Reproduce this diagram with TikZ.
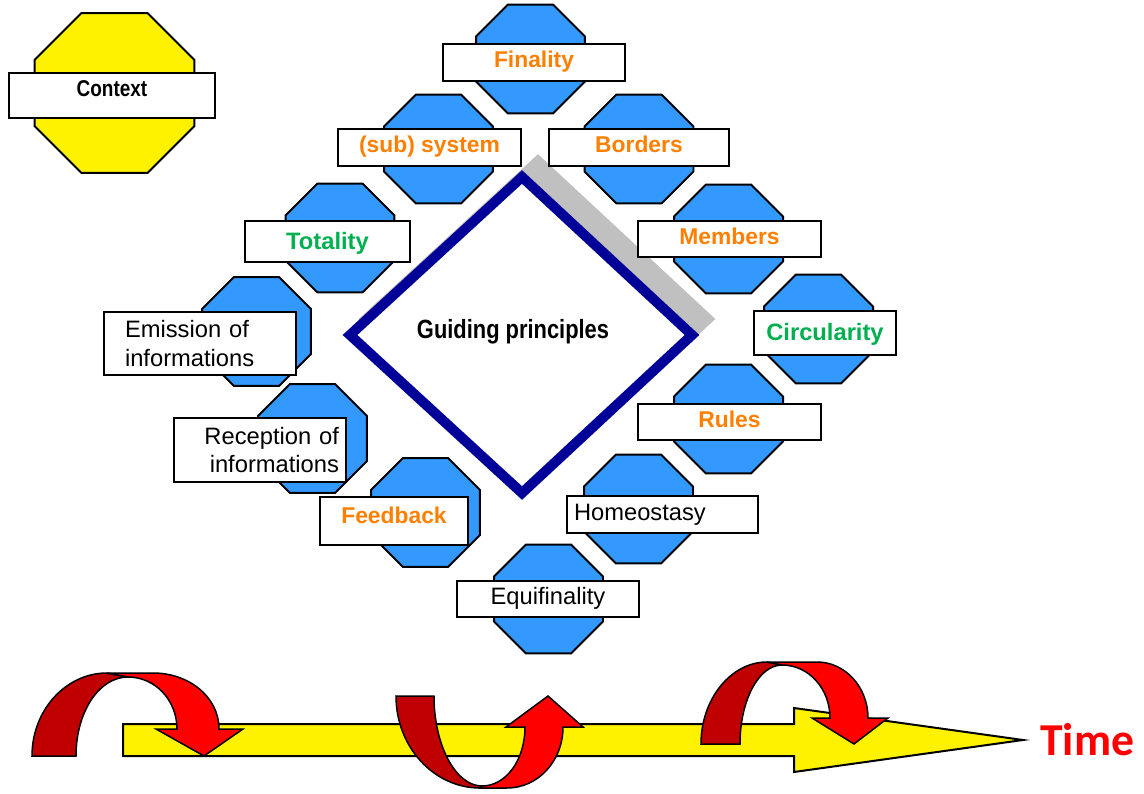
\documentclass[tikz,border=0pt]{standalone}
\usepackage{fontspec}
\setmainfont{Liberation Sans}
\newfontfamily\narrowfont{Liberation Sans}[FakeStretch=0.83]
\newfontfamily\timefont{Carlito}
\usetikzlibrary{shapes.geometric,positioning}
\definecolor{oct-blue}{HTML}{3399FF}
\definecolor{orng}{HTML}{FF8000}
\definecolor{grn}{HTML}{00B050}
\definecolor{navy}{HTML}{000099}
\definecolor{dark-red}{HTML}{C00000}
\definecolor{shadow-gray}{HTML}{C0C0C0}

\begin{document}
\begin{tikzpicture}[x=0.02cm, y=-0.02cm,
	   oct/.style={regular polygon, regular polygon sides=8, minimum size=2.36cm, inner sep=0pt, draw, line width=0.04cm, fill=oct-blue},
	   lbl/.style={draw, fill=white, line width=0.04cm, inner xsep=4pt, inner ysep=2pt, font=\fontsize{13.5}{16}\selectfont},
	   lbl1/.style={lbl, text height=0.34cm, text depth=0.12cm},
	   org/.style={text=orng, font=\fontsize{13}{16}\selectfont\bfseries},
	   grn/.style={text=grn, font=\fontsize{13.5}{16}\selectfont\bfseries},
	   back/.style={draw, line width=0.03cm, fill=dark-red},
	   front/.style={draw, line width=0.03cm, fill=red}]
	  \useasboundingbox (0,0) rectangle (1144,794);
	  % guiding principles
	  \filldraw[shadow-gray, line width=0.2cm] (538,161) -- (708,319) -- (538,477) -- (366,319) -- cycle;
	  \filldraw[fill=white, draw=navy, line width=0.2cm] (522,177) -- (692,335) -- (522,493) -- (350,335) -- cycle;
	  \node[font=\fontsize{15}{18}\narrowfont\bfseries] (gp) at (513,332) {Guiding principles};
	  % context
	  \node[oct, minimum size=3.46cm, fill=yellow] (ctx) at (114.5,93) {};
	  \node[lbl1, minimum width=4.12cm, minimum height=0.9cm, text depth=0.29cm, font=\fontsize{13}{16}\narrowfont\bfseries] (ctxL) at (112,95.5) {Context};
	  % octagons
	  \node[oct] (fin) at (530.5,59) {};
	  \node[oct] (sub) at (438.5,149) {};
	  \node[oct] (bor) at (639,149) {};
	  \node[oct] (tot) at (340,238) {};
	  \node[oct] (mem) at (728.5,239) {};
	  \node[oct] (emi) at (256.5,331.5) {};
	  \node[oct] (cir) at (818.5,329) {};
	  \node[oct] (rec) at (312.5,438.5) {};
	  \node[oct] (rul) at (728.5,419) {};
	  \node[oct] (fee) at (425.5,512.5) {};
	  \node[oct] (hom) at (638.5,509) {};
	  \node[oct] (equ) at (548.5,599) {};
	  % labels
	  \node[lbl1, org, minimum width=3.64cm, minimum height=0.74cm] (finL) at (534,62.5) {Finality};
	  \node[lbl1, org, minimum width=3.66cm, minimum height=0.74cm] (subL) at (429.5,147.5) {(sub) system};
	  \node[lbl1, org, minimum width=3.6cm, minimum height=0.74cm] (borL) at (639,147.5) {Borders};
	  \node[lbl1, grn, minimum width=3.3cm, minimum height=0.82cm, text depth=0.03cm] (totL) at (327.5,241.5) {Totality};
	  \node[lbl1, org, minimum width=3.66cm, minimum height=0.72cm] (memL) at (729.5,239) {Members};
	  \node[lbl, minimum width=3.84cm, minimum height=1.26cm, text width=3cm, align=left] (emiL) at (200,343.5) {Emission of\\informations};
	  \node[lbl1, grn, minimum width=2.84cm, minimum height=0.88cm, text depth=0.03cm] (cirL) at (825,333) {Circularity};
	  \node[lbl, minimum width=3.44cm, minimum height=1.28cm, text width=3.16cm, align=right] (recL) at (260,450) {Reception of\\informations};
	  \node[lbl1, org, minimum width=3.66cm, minimum height=0.72cm] (rulL) at (729.5,422) {Rules};
	  \node[lbl1, org, minimum width=2.96cm, minimum height=0.96cm, text depth=0.25cm] (feeL) at (394,521) {Feedback};
	  \node[lbl1, minimum width=3.82cm, minimum height=0.74cm, text width=3.54cm, align=left] (homL) at (662.5,514.5) {Homeostasy};
	  \node[lbl1, minimum width=3.64cm, minimum height=0.72cm] (equL) at (548,599) {Equifinality};
	  % time line
	  \coordinate (tip) at (1023,740);
	  \draw[line width=0.04cm, fill=yellow] (123,724) -- (794,724) -- (794,708) -- (tip) -- (794,772) -- (794,756) -- (123,756) -- cycle;
	  \draw[back] (32,756) .. controls (32,710) and (66,673) .. (107,673) -- (128,677)
	    .. controls (99,677) and (76,712) .. (76,756) -- cycle;
	  \draw[front] (107,673) -- (153,673) .. controls (189,673) and (219,697) .. (219,729)
	    -- (243,729) -- (204,756) -- (156,729) -- (177,729)
	    .. controls (177,700) and (155,677) .. (128,677) -- cycle;
	  \draw[back] (396,696) -- (434,696) .. controls (434,746) and (456,786) .. (482,786)
	    -- (480,788) .. controls (434,788) and (396,747) .. (396,696) -- cycle;
	  \draw[front] (480,788) -- (507,788) .. controls (538,788) and (563,761) .. (563,727)
	    -- (583,727) -- (548,696) -- (506,727) -- (525,727)
	    .. controls (525,760) and (506,786) .. (482,786) -- cycle;
	  \draw[back] (701,744) .. controls (701,699) and (731,662) .. (767,662) -- (782,665)
	    .. controls (759,665) and (740,700) .. (740,744) -- cycle;
	  \draw[front] (767,662) -- (817,662) .. controls (845,662) and (868,687) .. (868,718)
	    -- (888,718) -- (854,744) -- (812,718) -- (830,718)
	    .. controls (830,689) and (809,665) .. (782,665) -- cycle;
	  \node[right=0.34cm of tip, inner sep=0pt, text=red, font=\fontsize{26}{30}\timefont\bfseries] (time) {Time};
	\end{tikzpicture}
\end{document}
